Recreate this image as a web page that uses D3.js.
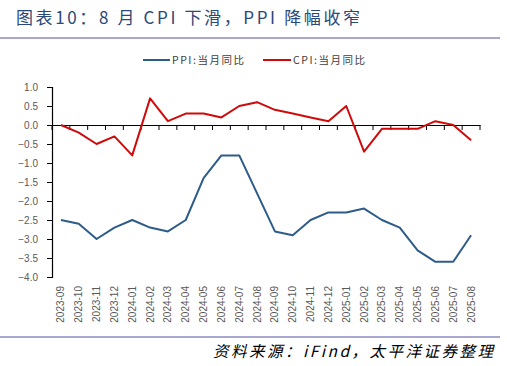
<!DOCTYPE html>
<html><head><meta charset="utf-8">
<script src="https://cdn.jsdelivr.net/npm/d3@7"></script>
<style>body{margin:0;background:#fff}svg{display:block}</style>
</head><body>
<script>
const months = ["2023-09","2023-10","2023-11","2023-12","2024-01","2024-02","2024-03","2024-04","2024-05","2024-06","2024-07","2024-08","2024-09","2024-10","2024-11","2024-12","2025-01","2025-02","2025-03","2025-04","2025-05","2025-06","2025-07","2025-08"];
const ppi = [-2.5,-2.6,-3.0,-2.7,-2.5,-2.7,-2.8,-2.5,-1.4,-0.8,-0.8,-1.8,-2.8,-2.9,-2.5,-2.3,-2.3,-2.2,-2.5,-2.7,-3.3,-3.6,-3.6,-2.9];
const cpi = [0.0,-0.2,-0.5,-0.3,-0.8,0.7,0.1,0.3,0.3,0.2,0.5,0.6,0.4,0.3,0.2,0.1,0.5,-0.7,-0.1,-0.1,-0.1,0.1,0.0,-0.4];
const yTicks = [1.0,0.5,0.0,-0.5,-1.0,-1.5,-2.0,-2.5,-3.0,-3.5,-4.0];
const seriesNames = ["PPI:当月同比","CPI:当月同比"];
const colors = ["#2e5c8a","#d00a0a"];

const W=507,H=366;
const svg=d3.select("body").append("svg").attr("width",W).attr("height",H);

svg.append("text").attr("x",16).attr("y",24).attr("fill","#2a4878")
  .attr("font-family","'Noto Sans CJK SC',sans-serif").attr("font-size",17)
  .attr("textLength",344).attr("lengthAdjust","spacing")
  .text("图表10：8 月 CPI 下滑，PPI 降幅收窄");
svg.append("line").attr("x1",0).attr("x2",500).attr("y1",38).attr("y2",38).attr("stroke","#8a8ac0").attr("stroke-width",1.5);
svg.append("line").attr("x1",0).attr("x2",500).attr("y1",337).attr("y2",337).attr("stroke","#8a8ac0").attr("stroke-width",1.5);
svg.append("text").attr("x",213).attr("y",357).attr("fill","#000")
  .attr("font-family","'Noto Sans CJK SC',sans-serif").attr("font-size",15.5).attr("font-style","italic")
  .attr("textLength",280).attr("lengthAdjust","spacing")
  .text("资料来源：iFind，太平洋证券整理");

const x=d3.scaleBand().domain(months).range([52,480]);
const y=d3.scaleLinear().domain([-4,1]).range([277,87]);

const yAxis=svg.append("g").attr("transform","translate(52,0)")
  .call(d3.axisLeft(y).tickValues(yTicks).tickFormat(d3.format(".1f")).tickSizeOuter(0).tickSize(5));
yAxis.select(".domain").attr("stroke","#000").attr("stroke-width",1.2);
yAxis.selectAll(".tick line").attr("stroke","#000");
yAxis.selectAll("text").attr("fill","#595959").attr("font-family","'Liberation Sans',Arial,sans-serif").attr("font-size",10).attr("x",-14);

const xAxis=svg.append("g").attr("transform",`translate(0,${y(0)})`)
  .call(d3.axisBottom(x).tickSize(0).tickSizeOuter(0));
xAxis.select(".domain").attr("stroke","#000").attr("stroke-width",1.2);
xAxis.selectAll(".tick text").remove();
const bounds=months.map(m=>x(m)).concat([x(months[months.length-1])+x.bandwidth()]);
xAxis.selectAll("line.bt").data(bounds).enter().append("line").attr("class","bt")
  .attr("x1",d=>d).attr("x2",d=>d).attr("y1",0).attr("y2",5).attr("stroke","#000");

svg.append("g").selectAll("text").data(months).enter().append("text")
  .attr("transform",d=>`translate(${x(d)+x.bandwidth()/2+3.5},286) rotate(-90)`)
  .attr("text-anchor","end").attr("fill","#595959")
  .attr("font-family","'Liberation Sans',Arial,sans-serif").attr("font-size",10)
  .text(d=>d);

const line=d3.line().x((d,i)=>x(months[i])+x.bandwidth()/2).y(d=>y(d));
[ppi,cpi].forEach((s,k)=>{
  svg.append("path").datum(s).attr("d",line).attr("fill","none")
    .attr("stroke",colors[k]).attr("stroke-width",2).attr("stroke-linejoin","round");
});

const leg=[{x1:143,x2:170,tx:172},{x1:263,x2:291,tx:293}];
leg.forEach((l,k)=>{
  svg.append("line").attr("x1",l.x1).attr("x2",l.x2).attr("y1",60).attr("y2",60).attr("stroke",colors[k]).attr("stroke-width",2);
  svg.append("text").attr("x",l.tx).attr("y",64).attr("fill","#404040")
    .attr("font-family","'Noto Sans CJK SC',sans-serif").attr("font-size",10.5)
    .attr("textLength",72).attr("lengthAdjust","spacing").text(seriesNames[k]);
});
</script>
</body></html>
